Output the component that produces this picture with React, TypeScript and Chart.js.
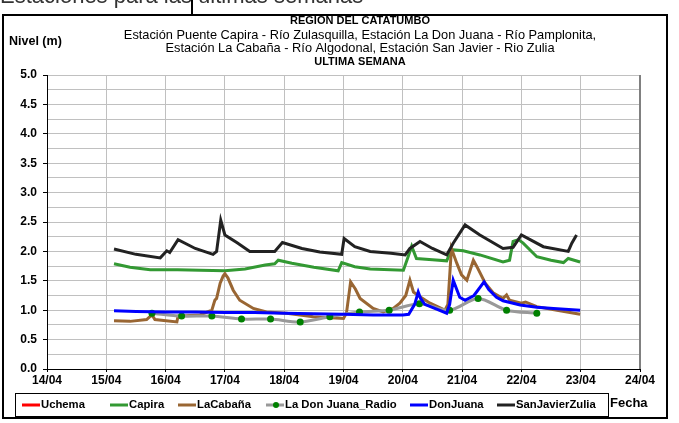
import { useEffect, useRef } from 'react';
import { Chart, registerables } from 'chart.js';

Chart.register(...registerables);

const FONT = '"Liberation Sans", Arial, sans-serif';

// x = days since 14/04 00:00, y = level (m)
const xTickLabels = ['14/04', '15/04', '16/04', '17/04', '18/04', '19/04', '20/04', '21/04', '22/04', '23/04', '24/04'];

const uchema: [number, number][] = [];

const capira: [number, number][] = [
  [1.13, 1.79], [1.4, 1.73], [1.74, 1.69], [2.2, 1.69], [2.58, 1.68], [3.0, 1.67], [3.34, 1.7],
  [3.68, 1.77], [3.84, 1.79], [3.9, 1.85], [4.13, 1.8], [4.5, 1.73], [4.91, 1.67], [4.97, 1.81],
  [5.19, 1.74], [5.45, 1.7], [6.01, 1.68], [6.09, 1.91], [6.15, 2.09], [6.23, 1.88], [6.5, 1.86],
  [6.74, 1.84], [6.82, 2.03], [7.02, 2.01], [7.3, 1.94], [7.69, 1.82], [7.8, 1.85], [7.86, 2.17],
  [7.95, 2.2], [8.03, 2.14], [8.26, 1.91], [8.5, 1.85], [8.71, 1.81], [8.79, 1.88], [8.99, 1.82],
];

const laCabana: [number, number][] = [
  [1.13, 0.82], [1.4, 0.81], [1.68, 0.84], [1.77, 0.92], [1.82, 0.84], [2.19, 0.8], [2.21, 0.9],
  [2.58, 0.92], [2.78, 1.0], [2.83, 1.17], [2.86, 1.2], [2.92, 1.46], [2.97, 1.58], [3.0, 1.62],
  [3.05, 1.55], [3.14, 1.34], [3.25, 1.17], [3.48, 1.03], [3.7, 0.97], [4.04, 0.95], [4.49, 0.89],
  [5.0, 0.86], [5.05, 0.95], [5.12, 1.48], [5.2, 1.36], [5.28, 1.2], [5.5, 1.03], [5.67, 0.97],
  [5.84, 1.03], [5.95, 1.12], [6.05, 1.25], [6.12, 1.51], [6.18, 1.31], [6.29, 1.23], [6.46, 1.12],
  [6.71, 1.0], [6.76, 1.1], [6.82, 2.05], [6.91, 1.8], [6.99, 1.6], [7.08, 1.51], [7.19, 1.85],
  [7.25, 1.74], [7.39, 1.46], [7.53, 1.29], [7.69, 1.2], [7.75, 1.26], [7.8, 1.17], [8.0, 1.12],
  [8.07, 1.14], [8.26, 1.06], [8.6, 1.0], [8.99, 0.93],
];

const donJuanaRadio: [number, number][] = [
  [1.77, 0.95], [2.27, 0.9], [2.78, 0.9], [3.28, 0.85], [3.77, 0.85], [4.27, 0.8], [4.77, 0.89],
  [5.27, 0.97], [5.77, 1.0], [6.28, 1.11], [6.79, 1.0], [7.27, 1.2], [7.75, 1.0], [8.26, 0.95],
];

const donJuana: [number, number][] = [
  [1.13, 0.99], [1.5, 0.98], [2.0, 0.97], [2.5, 0.97], [3.0, 0.96], [3.5, 0.96], [4.0, 0.95],
  [4.5, 0.94], [5.0, 0.93], [5.5, 0.92], [6.0, 0.92], [6.1, 0.93], [6.2, 1.1], [6.26, 1.31],
  [6.3, 1.2], [6.37, 1.1], [6.57, 1.02], [6.74, 0.95], [6.79, 1.1], [6.85, 1.51], [6.96, 1.22],
  [7.05, 1.17], [7.2, 1.25], [7.37, 1.48], [7.45, 1.35], [7.58, 1.22], [7.69, 1.16], [7.98, 1.09],
  [8.26, 1.05], [8.54, 1.03], [8.99, 1.0],
];

const sanJavierZulia: [number, number][] = [
  [1.13, 2.04], [1.5, 1.95], [1.91, 1.89], [2.02, 2.01], [2.07, 1.98], [2.21, 2.2], [2.5, 2.05],
  [2.8, 1.95], [2.86, 2.0], [2.93, 2.53], [3.0, 2.28], [3.2, 2.15], [3.42, 2.0], [3.84, 2.0],
  [3.97, 2.15], [4.3, 2.05], [4.6, 1.99], [4.97, 1.95], [5.01, 2.22], [5.19, 2.08], [5.45, 2.0],
  [5.8, 1.97], [6.04, 1.94], [6.12, 2.05], [6.29, 2.17], [6.5, 2.05], [6.74, 1.94], [6.85, 2.14],
  [7.05, 2.45], [7.3, 2.28], [7.69, 2.05], [7.86, 2.07], [8.0, 2.28], [8.37, 2.08], [8.79, 2.0],
  [8.85, 2.14], [8.93, 2.28],
];

const seriesNames = ['Uchema', 'Capira', 'LaCabaña', 'La Don Juana_Radio', 'DonJuana', 'SanJavierZulia'];
const seriesData = [uchema, capira, laCabana, donJuanaRadio, donJuana, sanJavierZulia];
const seriesColors = ['#ff0000', '#339933', '#996633', '#999999', '#0000ff', '#222222'];

const titleLines = [
  { text: 'REGIÓN DEL CATATUMBO', bold: true },
  { text: 'Estación Puente Capira - Río Zulasquilla, Estación La Don Juana - Río Pamplonita,', bold: false },
  { text: 'Estación La Cabaña - Río Algodonal, Estación San Javier - Rio Zulia', bold: false },
  { text: 'ULTIMA SEMANA', bold: true },
];

export default function App() {
  const ref = useRef<HTMLCanvasElement>(null);

  useEffect(() => {
    const canvas = ref.current!;
    const decor = {
      id: 'decor',
      afterDraw(chart: any) {
        const ctx = chart.ctx as CanvasRenderingContext2D;
        const ca = chart.chartArea;
        ctx.save();
        // right plot border
        ctx.strokeStyle = '#808080';
        ctx.lineWidth = 2;
        ctx.beginPath();
        ctx.moveTo(ca.right, ca.top);
        ctx.lineTo(ca.right, ca.bottom);
        ctx.stroke();

        // outer frame
        ctx.strokeStyle = '#000';
        ctx.lineWidth = 2;
        ctx.strokeRect(3, 15, 664, 403);

        // cut-off text at top
        ctx.fillStyle = '#333';
        ctx.font = `22px ${FONT}`;
        ctx.textAlign = 'left';
        ctx.textBaseline = 'alphabetic';
        ctx.fillText('Estaciones para las últimas semanas', 0, 3);
        ctx.lineWidth = 2;
        ctx.strokeStyle = '#000';
        ctx.beginPath();
        ctx.moveTo(192, 0);
        ctx.lineTo(192, 15);
        ctx.stroke();

        // titles
        ctx.fillStyle = '#000';
        ctx.textAlign = 'center';
        ctx.textBaseline = 'middle';
        const ys = [21, 35, 48, 62];
        titleLines.forEach((l, i) => {
          ctx.font = `${l.bold ? 'bold ' : ''}${l.bold ? 11 : 12.8}px ${FONT}`;
          ctx.fillText(l.text, 360, ys[i]);
        });

        ctx.textAlign = 'left';
        ctx.font = `bold 12.5px ${FONT}`;
        ctx.fillText('Nivel (m)', 9, 42);
        ctx.font = `bold 13px ${FONT}`;
        ctx.fillText('Fecha', 610, 403);

        // legend
        ctx.lineWidth = 1;
        ctx.strokeStyle = '#000';
        ctx.strokeRect(15.5, 393.5, 593, 23);
        const starts = [22, 110, 178, 266, 410, 497];
        ctx.font = `bold 11.3px ${FONT}`;
        ctx.textBaseline = 'middle';
        seriesNames.forEach((name, i) => {
          const x0 = starts[i];
          const y = 405;
          ctx.strokeStyle = seriesColors[i];
          ctx.lineWidth = 3;
          ctx.beginPath();
          ctx.moveTo(x0, y);
          ctx.lineTo(x0 + 18, y);
          ctx.stroke();
          if (i === 3) {
            ctx.fillStyle = '#008000';
            ctx.beginPath();
            ctx.arc(x0 + 10, y, 3, 0, Math.PI * 2);
            ctx.fill();
          }
          ctx.fillStyle = '#000';
          ctx.fillText(name, x0 + 19, y);
        });
        ctx.restore();
      },
    };

    const datasets = seriesData.map((arr, i) => ({
      label: seriesNames[i],
      data: arr.map(([x, y]) => ({ x, y })),
      borderColor: seriesColors[i],
      backgroundColor: seriesColors[i],
      borderWidth: 3,
      pointRadius: i === 3 ? 3.5 : 0,
      pointBackgroundColor: '#008000',
      pointBorderColor: '#008000',
      pointBorderWidth: 0,
      tension: i === 3 ? 0.3 : 0,
      fill: false,
      order: 5 - i,
    }));

    const tickFont = { family: FONT, size: 12, weight: 'bold' as const };
    const isMajor = (v: number) => Math.abs(v * 2 - Math.round(v * 2)) < 1e-6;

    const chart = new Chart(canvas, {
      type: 'line',
      data: { datasets },
      options: {
        animation: false,
        responsive: false,
        maintainAspectRatio: false,
        layout: { padding: { left: 0, top: 75, right: 39, bottom: 31 } },
        plugins: { legend: { display: false }, tooltip: { enabled: false }, title: { display: false } },
        scales: {
          x: {
            type: 'linear',
            min: 0,
            max: 10,
            afterFit: (s: any) => { s.height = 23; },
            ticks: {
              stepSize: 1,
              autoSkip: false,
              maxRotation: 0,
              padding: 1,
              color: '#000',
              font: tickFont,
              callback: (v: any) => xTickLabels[Math.round(Number(v))] ?? '',
            },
            grid: { color: '#c0c0c0', lineWidth: 1, tickLength: 3, tickColor: '#000' },
            border: { color: '#000', width: 1 },
          },
          y: {
            type: 'linear',
            min: 0,
            max: 5,
            afterFit: (s: any) => { s.width = 47; },
            ticks: {
              stepSize: 0.25,
              autoSkip: false,
              padding: 6,
              color: '#000',
              font: tickFont,
              callback: (v: any) => (isMajor(Number(v)) ? Number(v).toFixed(1) : ''),
            },
            grid: {
              color: '#c0c0c0',
              lineWidth: 1,
              tickLength: 4,
              tickColor: (c: any) => (c.tick && isMajor(c.tick.value) ? '#000' : 'rgba(0,0,0,0)'),
            },
            border: { color: '#000', width: 1 },
          },
        },
      },
      plugins: [decor],
    });
    return () => chart.destroy();
  }, []);

  return (
    <div style={{ position: 'fixed', left: 0, top: 0, width: 679, height: 423, background: '#fff' }}>
      <canvas ref={ref} width={679} height={423} style={{ display: 'block' }} />
    </div>
  );
}
